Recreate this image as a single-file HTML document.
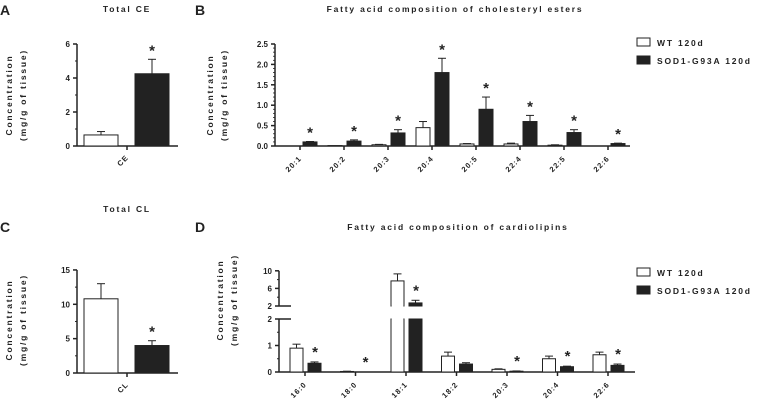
<!DOCTYPE html>
<html><head><meta charset="utf-8"><style>
body{margin:0;background:#fff}
svg{font-family:"Liberation Sans",Arial,sans-serif;font-weight:bold}
</style></head><body>
<svg id="s" width="759" height="400" viewBox="0 0 759 400"></svg>
<script>
const ceWT=[0.65], ceWTerr=[0.85], ceSOD=[4.25], ceSODerr=[5.1];
const clWT=[10.8], clWTerr=[13], clSOD=[4.0], clSODerr=[4.7];
const bCats=["20:1","20:2","20:3","20:4","20:5","22:4","22:5","22:6"];
const bWT=[0,0.01,0.03,0.45,0.05,0.05,0.02,0];
const bWTerr=[0,0.01,0.04,0.6,0.06,0.07,0.03,0];
const bSOD=[0.1,0.12,0.32,1.8,0.9,0.6,0.33,0.06];
const bSODerr=[0.11,0.15,0.4,2.15,1.2,0.75,0.4,0.07];
const bTicks=["0.0","0.5","1.0","1.5","2.0","2.5"];
const dCats=["16:0","18:0","18:1","18:2","20:3","20:4","22:6"];
const dWT=[0.9,0.02,7.7,0.6,0.1,0.5,0.65];
const dWTerr=[1.05,0.03,9.3,0.75,0.12,0.6,0.75];
const dSOD=[0.33,0,2.7,0.3,0.03,0.2,0.25];
const dSODerr=[0.38,0,3.3,0.35,0.04,0.22,0.3];
const dStar=[1,1,1,0,1,1,1];

const S=document.getElementById('s');const NS='http://www.w3.org/2000/svg';
function el(t,a,txt){const e=document.createElementNS(NS,t);for(const k in a)e.setAttribute(k,a[k]);if(txt!==undefined)e.textContent=txt;S.appendChild(e);return e;}
function line(x1,y1,x2,y2,w){return el('line',{x1,y1,x2,y2,stroke:'#222','stroke-width':w||1.5});}
function text(x,y,t,o){return el('text',Object.assign({x,y,'font-size':8,fill:'#222'},o||{}),t);}
function bar(x,w,yTop,y0,fill,name){const r=el('rect',{x,y:Math.min(yTop,y0),width:w,height:Math.abs(y0-yTop),fill,stroke:'#222','stroke-width':1});

return r;}
function err(cx,yv,ye){if(ye<yv){line(cx,yv,cx,ye,1);line(cx-4,ye,cx+4,ye,1);}}
function star(x,y){const t=text(x,y,'*',{'font-size':15,'text-anchor':'middle'});

}
function ytitle(x,y){const g=el('text',{transform:`translate(${x},${y}) rotate(-90)`,'font-size':8.5,'text-anchor':'middle','letter-spacing':1.8,fill:'#222'});


const a=document.createElementNS(NS,'tspan');a.setAttribute('x',0);a.setAttribute('y',0);a.textContent='Concentration';g.appendChild(a);
const b=document.createElementNS(NS,'tspan');b.setAttribute('x',0);b.setAttribute('y',14);b.textContent='(mg/g of tissue)';g.appendChild(b);}
function title(x,y,t,name){const e=text(x,y,t,{'font-size':8.5,'letter-spacing':1.8,'text-anchor':'middle'});

}
function letter(x,y,t){const e=text(x,y,t,{'font-size':14});

}
function xlab(x,y,t){const e=text(x,y,t,{'font-size':7.5,'text-anchor':'end','letter-spacing':1,transform:`rotate(-45 ${x} ${y})`});

}

// Panel A
letter(0,15,'A');title(127,12,'Total CE','title-a');ytitle(12,95);
{const x0=77,y0=146,k=17,ya=v=>y0-v*k;
line(x0,ya(6),x0,y0);line(x0,y0,178,y0);
[0,2,4,6].forEach(v=>{line(x0-4,ya(v),x0,ya(v));text(x0-7,ya(v)+3,v,{'text-anchor':'end'});});
[1,3,5].forEach(v=>line(x0-2,ya(v),x0,ya(v),1));
bar(84,34,ya(ceWT[0]),y0,'#fff','bar-ce-wt');err(101,ya(ceWT[0]),ya(ceWTerr[0]));
bar(135,34,ya(ceSOD[0]),y0,'#222','bar-ce-sod');err(152,ya(ceSOD[0]),ya(ceSODerr[0]));
star(152,ya(ceSODerr[0])-4);line(127,y0,127,y0+4);xlab(129,158,'CE');}

// Panel C
letter(0,232,'C');title(127,212,'Total CL','title-c');ytitle(12,320);
{const x0=77,y0=373,k=6.87,ya=v=>y0-v*k;
line(x0,ya(15),x0,y0);line(x0,y0,178,y0);
[0,5,10,15].forEach(v=>{line(x0-4,ya(v),x0,ya(v));text(x0-7,ya(v)+3,v,{'text-anchor':'end'});});
[2.5,7.5,12.5].forEach(v=>line(x0-2,ya(v),x0,ya(v),1));
bar(84,34,ya(clWT[0]),y0,'#fff','bar-cl-wt');err(101,ya(clWT[0]),ya(clWTerr[0]));
bar(135,34,ya(clSOD[0]),y0,'#222','bar-cl-sod');err(152,ya(clSOD[0]),ya(clSODerr[0]));
star(152,ya(clSODerr[0])-4);line(127,y0,127,y0+4);xlab(129,385,'CL');}

// Panel B
letter(195,15,'B');title(455,12,'Fatty acid composition of cholesteryl esters','title-b');ytitle(213,95);
{const x0=275,y0=146,k=40.8,ya=v=>y0-v*k,xc=i=>300+i*44;
line(x0,ya(2.5),x0,y0);line(x0,y0,630,y0);
bTicks.forEach(t=>{const v=parseFloat(t);line(x0-4,ya(v),x0,ya(v));text(x0-7,ya(v)+3,t,{'text-anchor':'end'});});
for(let v=0.1;v<2.5;v+=0.1){if(Math.abs(v*2-Math.round(v*2))>0.01)line(x0-2,ya(v),x0,ya(v),0.8);}
bCats.forEach((c,i)=>{const x=xc(i);
bar(x-16,14,ya(bWT[i]),y0,'#fff','bar-b-wt-'+c);err(x-9,ya(bWT[i]),ya(bWTerr[i]));
bar(x+3,14,ya(bSOD[i]),y0,'#222','bar-b-sod-'+c);err(x+10,ya(bSOD[i]),ya(bSODerr[i]));
star(x+10,ya(bSODerr[i])-4);line(x,y0,x,y0+4);xlab(x+2,159,c);});}

// Panel D
letter(195,232,'D');title(458,230,'Fatty acid composition of cardiolipins','title-d');ytitle(223,300);
{const x0=279,y0=372,k=26.5,ya=v=>y0-v*k,yu=v=>306-(v-2)*4.4,Y=v=>v<=2?ya(v):yu(v),xc=i=>305+i*50.5;
line(x0,ya(2),x0,y0);line(x0,yu(10),x0,yu(2));line(x0,y0,635,y0);
[0,1,2].forEach(v=>{line(x0-4,ya(v),x0,ya(v));text(x0-7,ya(v)+3,v,{'text-anchor':'end'});});
[0.5,1.5].forEach(v=>line(x0-2,ya(v),x0,ya(v),1));
[2,6,10].forEach(v=>{line(x0-4,yu(v),x0,yu(v));text(x0-7,yu(v)+3,v,{'text-anchor':'end'});});
[4,8].forEach(v=>line(x0-2,yu(v),x0,yu(v),1));
dCats.forEach((c,i)=>{const x=xc(i);
function db(v,e,xx,fill,nm){if(v<=2){bar(xx,13,ya(v),y0,fill,nm);}else{bar(xx,13,ya(2),y0,fill,nm);bar(xx,13,yu(v),yu(2),fill,nm+'-upper');
el('rect',{x:xx-1,y:yu(2)+1,width:15,height:ya(2)-yu(2)-2,fill:'#fff'});
if(fill==='#fff'){el('rect',{x:xx+0.6,y:yu(2)-1,width:11.8,height:2,fill:'#fff'});el('rect',{x:xx+0.6,y:ya(2)-1,width:11.8,height:2,fill:'#fff'});}}
err(xx+6.5,Y(v),Y(e));}
db(dWT[i],dWTerr[i],x-15,'#fff','bar-d-wt-'+c);db(dSOD[i],dSODerr[i],x+3,'#222','bar-d-sod-'+c);
if(dStar[i])star(x+10,Y(Math.max(dSODerr[i],dSOD[i]))-5);line(x,y0,x,y0+4);xlab(x+2,385,c);});
line(x0,yu(2),x0+12,yu(2));line(x0,ya(2),x0+12,ya(2));}

// Legends
function legend(y,nm){[['WT 120d','#fff'],['SOD1-G93A 120d','#222']].forEach((d,j)=>{
const r=el('rect',{x:637,y:y+j*18,width:13,height:8,fill:d[1],stroke:'#222','stroke-width':1});


const t=text(657,y+j*18+8,d[0],{'font-size':8.5,'letter-spacing':1.8});

});}
legend(38,'legend-b');legend(268,'legend-d');
</script>
</body></html>
